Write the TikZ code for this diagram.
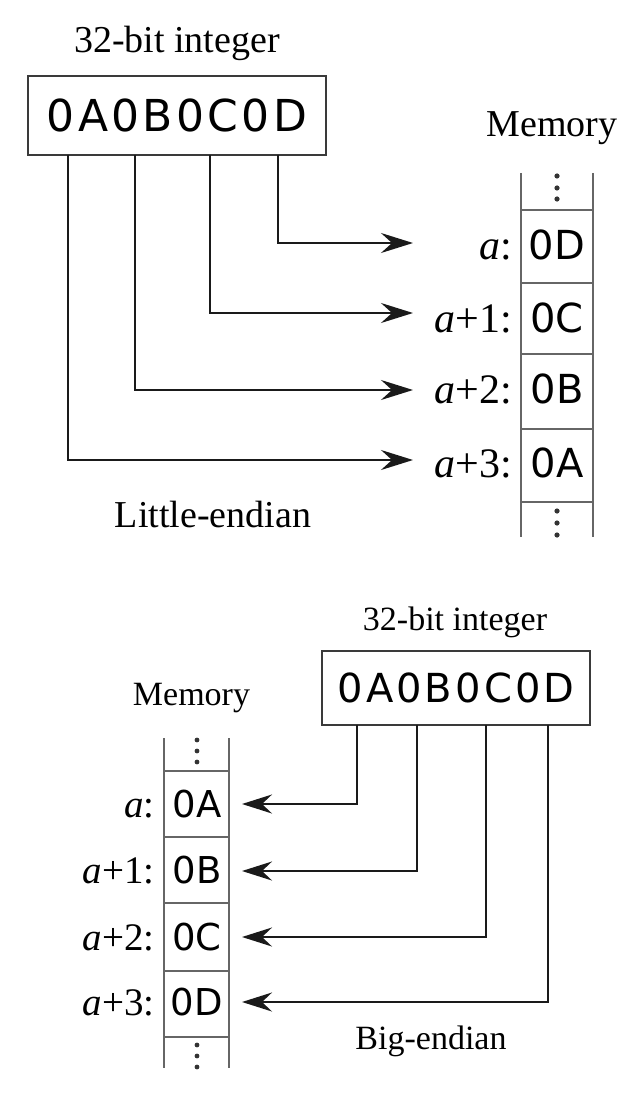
\documentclass[tikz,border=0pt]{standalone}
\usepackage{fontspec}
\setmainfont{Liberation Serif}
\newfontfamily\hexfont{DejaVu Sans}
\newfontfamily\hexwide{DejaVu Sans}[LetterSpace=7.7]
\usetikzlibrary{arrows.meta}
\definecolor{boxline}{HTML}{3A3A3A}
\definecolor{memline}{HTML}{666666}
\definecolor{connline}{HTML}{1A1A1A}
\begin{document}
\begin{tikzpicture}[x=1pt,y=-1pt,
  lblA/.style={inner sep=0pt,anchor=base,font=\fontsize{38}{40}\selectfont},
  lblB/.style={inner sep=0pt,anchor=base,font=\fontsize{34}{36}\selectfont},
  hexA/.style={draw=boxline,line width=2.4pt,inner sep=0pt,minimum width=298pt,minimum height=79pt,font=\hexwide\fontsize{44}{46}\selectfont},
  hexB/.style={draw=boxline,line width=2.4pt,inner sep=0pt,minimum width=268pt,minimum height=74pt,font=\hexwide\fontsize{40}{42}\selectfont},
  cellA/.style={inner sep=0pt,anchor=base,font=\hexfont\fontsize{40}{42}\selectfont},
  cellB/.style={inner sep=0pt,anchor=base,font=\hexfont\fontsize{37}{39}\selectfont},
  addrA/.style={inner sep=0pt,anchor=base east,font=\fontsize{42}{44}\selectfont},
  addrB/.style={inner sep=0pt,anchor=base east,font=\fontsize{39}{41}\selectfont},
  mem/.style={draw=memline,line width=1.8pt},
  conn/.style={draw=connline,line width=2pt,-{Stealth[length=32pt,width=20pt,inset=11pt]}},
  connB/.style={draw=connline,line width=2pt,-{Stealth[length=30pt,width=19pt,inset=10pt]}},
  vdot/.style={fill=black!80}
]
\useasboundingbox (0,0) rectangle (642,1102);

% ---------------- Little-endian ----------------
\node[lblA] (titleA) at (177,53) {32-bit integer};
\node[hexA] (intA) at (177,115.5) {0A0B0C0D};
\node[lblA] (memA) at (552,137) {Memory};
\node[lblA] (little) at (213,527) {Little-endian};

% memory column
\draw[mem] (521,173) -- (521,537) (593,173) -- (593,537);
\foreach \yy in {210,283,354,429,502} \draw[mem] (521,\yy) -- (593,\yy);
\foreach \yy in {176,188,199,511,523,535} \fill[vdot] (557,\yy) circle (2.6pt);

\node[cellA] (a0) at (557,259) {0D};
\node[cellA] (a1) at (557,332) {0C};
\node[cellA] (a2) at (557,403) {0B};
\node[cellA] (a3) at (557,477) {0A};
\node[addrA] (la0) at (512,259) {\textit{a}:};
\node[addrA] (la1) at (512,332) {\textit{a}+1:};
\node[addrA] (la2) at (512,403) {\textit{a}+2:};
\node[addrA] (la3) at (512,477) {\textit{a}+3:};

\coordinate (sA0) at (278,155);
\coordinate (sA1) at (210,155);
\coordinate (sA2) at (135,155);
\coordinate (sA3) at (68,155);
\coordinate (tA0) at (413,243);
\coordinate (tA1) at (413,313);
\coordinate (tA2) at (413,390);
\coordinate (tA3) at (413,460);
\draw[conn] (sA0) |- (tA0);
\draw[conn] (sA1) |- (tA1);
\draw[conn] (sA2) |- (tA2);
\draw[conn] (sA3) |- (tA3);

% ---------------- Big-endian ----------------
\node[lblB] (titleB) at (455,630) {32-bit integer};
\node[hexB] (intB) at (456,688) {0A0B0C0D};
\node[lblB] (memB) at (191.5,705) {Memory};
\node[lblB] (big) at (431,1049) {Big-endian};

\draw[mem] (164,738) -- (164,1068) (229,738) -- (229,1068);
\foreach \yy in {771,837,903,971,1037} \draw[mem] (164,\yy) -- (229,\yy);
\foreach \yy in {740,751,762,1045,1056,1067} \fill[vdot] (197,\yy) circle (2.4pt);

\node[cellB] (b0) at (197,817) {0A};
\node[cellB] (b1) at (197,883) {0B};
\node[cellB] (b2) at (197,950) {0C};
\node[cellB] (b3) at (197,1015) {0D};
\node[addrB] (lb0) at (155,817) {\textit{a}:};
\node[addrB] (lb1) at (155,883) {\textit{a}+1:};
\node[addrB] (lb2) at (155,950) {\textit{a}+2:};
\node[addrB] (lb3) at (155,1015) {\textit{a}+3:};

\coordinate (sB0) at (357,725);
\coordinate (sB1) at (417,725);
\coordinate (sB2) at (486,725);
\coordinate (sB3) at (548,725);
\coordinate (tB0) at (242,804);
\coordinate (tB1) at (242,871);
\coordinate (tB2) at (242,937);
\coordinate (tB3) at (242,1002);
\draw[connB] (sB0) |- (tB0);
\draw[connB] (sB1) |- (tB1);
\draw[connB] (sB2) |- (tB2);
\draw[connB] (sB3) |- (tB3);
\end{tikzpicture}
\end{document}
